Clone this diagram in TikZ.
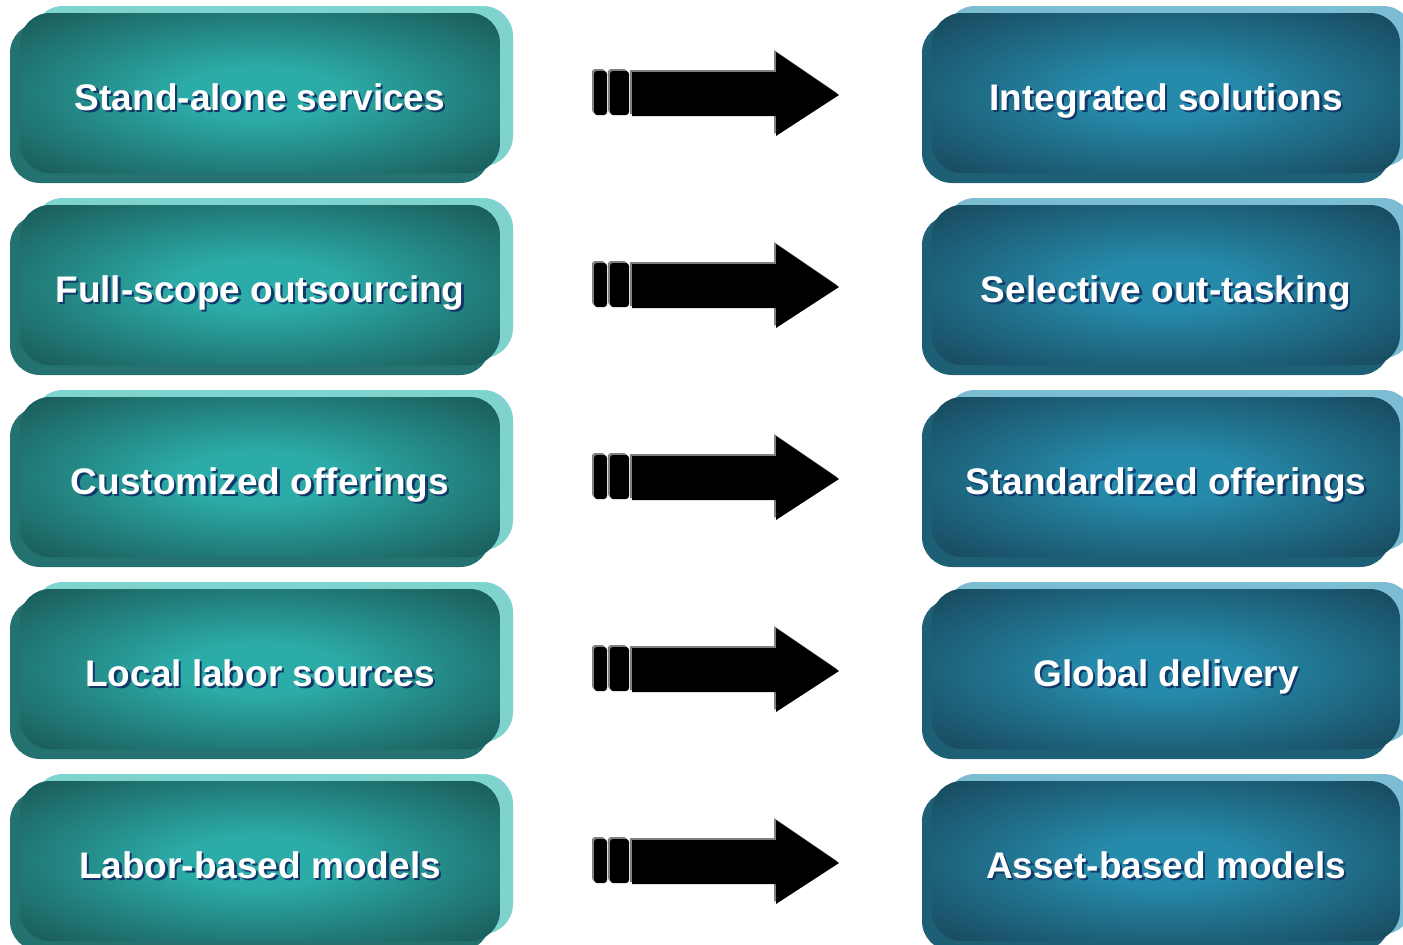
\documentclass[tikz,border=0pt]{standalone}
\usepackage{fontspec}
\setmainfont{Liberation Sans}
\usetikzlibrary{shadows,calc}

\definecolor{lefthi}{HTML}{2CACA8}
\definecolor{leftlo}{HTML}{195755}
\definecolor{leftback}{HTML}{7FD3CF}
\definecolor{leftdark}{HTML}{237270}
\definecolor{righthi}{HTML}{268AAA}
\definecolor{rightlo}{HTML}{17465A}
\definecolor{rightback}{HTML}{7DBDD3}
\definecolor{rightdark}{HTML}{1D5F75}
\definecolor{txtshadow}{HTML}{10396A}
\definecolor{arrowgrey}{HTML}{808080}

\pgfdeclareradialshading{leftglow}{\pgfpoint{0bp}{0bp}}{color(0bp)=(lefthi); color(8bp)=(lefthi); color(36bp)=(leftlo); color(50bp)=(leftlo)}
\pgfdeclareradialshading{rightglow}{\pgfpoint{0bp}{0bp}}{color(0bp)=(righthi); color(8bp)=(righthi); color(36bp)=(rightlo); color(50bp)=(rightlo)}

\newcommand\glowtext[1]{\rlap{\kern1.2pt\raisebox{-1.2pt}{\color{txtshadow}#1}}#1}

\tikzset{
  box/.style={rounded corners=15pt, minimum height=80pt, inner sep=0pt,
    text height=17pt, text depth=0pt,
    text=white, font=\bfseries\fontsize{18.5}{20}\selectfont},
  leftbox/.style={box, minimum width=240pt, shade, shading=leftglow,
    general shadow={fill=leftback, shadow xshift=6.5pt, shadow yshift=3.5pt},
    general shadow={fill=leftdark, shadow xshift=-5pt, shadow yshift=-5pt}},
  rightbox/.style={box, minimum width=234pt, shade, shading=rightglow,
    general shadow={fill=rightback, shadow xshift=6.5pt, shadow yshift=3.5pt},
    general shadow={fill=rightdark, shadow xshift=-5pt, shadow yshift=-5pt}},
  blockarrow/.style={fill=black,
    preaction={fill=arrowgrey, transform canvas={xshift=-1pt,yshift=1pt}}}
}

\begin{document}
\begin{tikzpicture}[x=0.5pt,y=-0.5pt]
  \useasboundingbox (0,0) rectangle (1403,944);
  \foreach \i/\y/\ltxt/\rtxt in {1/93/Stand-alone services/Integrated solutions,
      2/285/Full-scope outsourcing/Selective out-tasking,
      3/477/Customized offerings/Standardized offerings,
      4/669/Local labor sources/Global delivery,
      5/861/Labor-based models/Asset-based models} {
    \node[leftbox] (l\i) at (260,\y) {\glowtext{\ltxt}};
    \node[rightbox] (r\i) at (1166,\y) {\glowtext{\rtxt}};
    % arrow halfway between the two boxes
    \begin{scope}[shift={($(l\i.east)!0.5!(r\i.west)$)}]
      \fill[blockarrow, rounded corners=1.5pt] (-122,-22) rectangle (-109,22);
      \fill[blockarrow, rounded corners=1.5pt] (-106,-22) rectangle (-87,22);
      \fill[blockarrow] (-84,-21) -- (60,-21) -- (60,-41) -- (123,2) -- (60,43) -- (60,23) -- (-84,23) -- cycle;
    \end{scope}
  }
\end{tikzpicture}
\end{document}
